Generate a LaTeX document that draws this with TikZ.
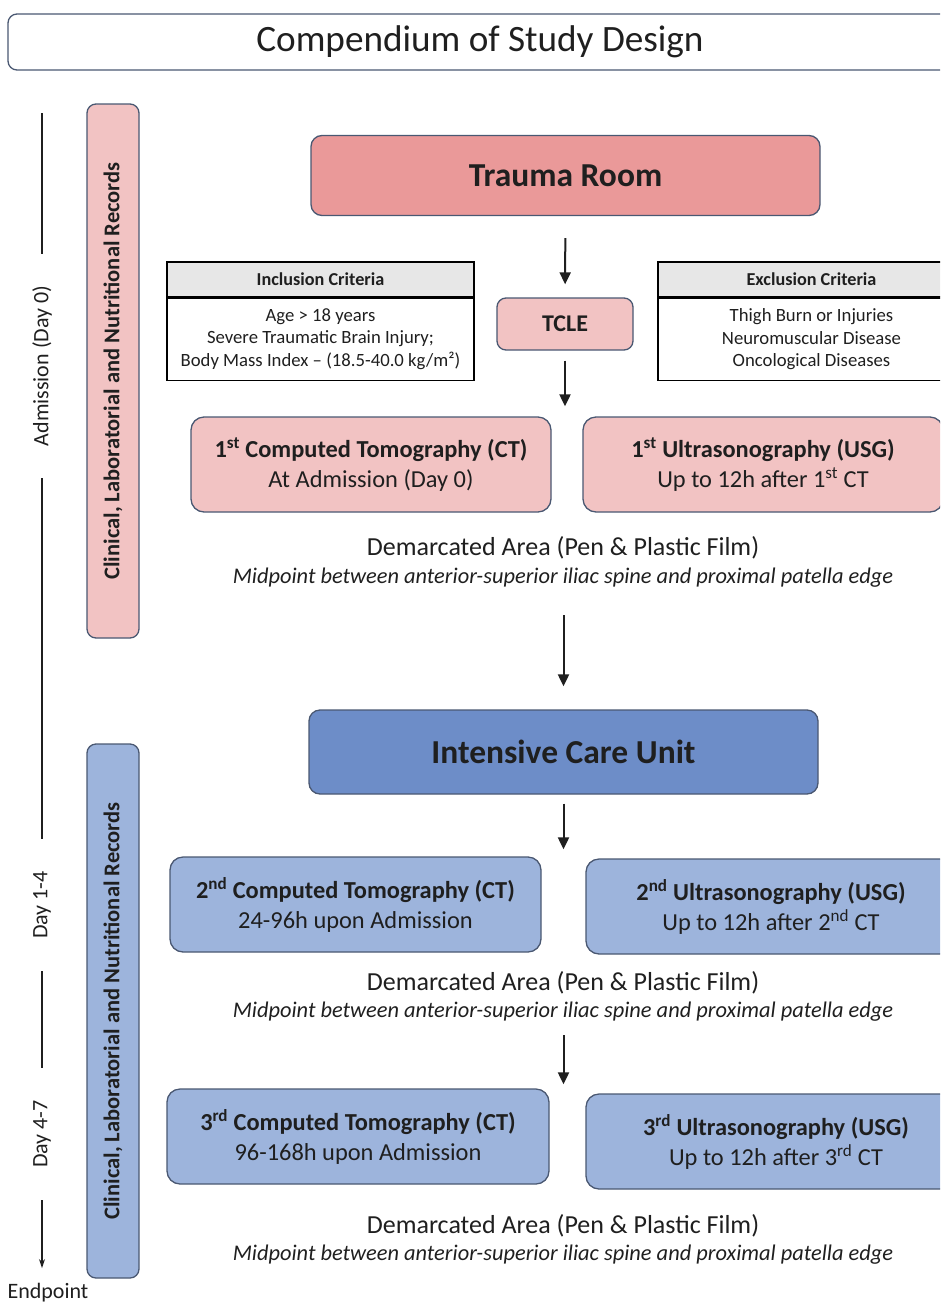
\documentclass[tikz,border=0pt]{standalone}
\usepackage{fontspec}
\setmainfont{Carlito}
\usetikzlibrary{arrows.meta, positioning}

\definecolor{edgeslate}{HTML}{4A5872}
\definecolor{pinklight}{HTML}{F2C3C3}
\definecolor{pinkdark}{HTML}{EA9999}
\definecolor{bluelight}{HTML}{9DB4DC}
\definecolor{bluedark}{HTML}{6D8DC8}
\definecolor{headgray}{HTML}{E7E7E7}
\definecolor{inkgray}{HTML}{1F1F1F}

\tikzset{
    roombox/.style={draw=edgeslate, line width=1.3pt, rounded corners=11pt,
        minimum height=80pt, minimum width=509pt, text=inkgray,
        font=\fontsize{33.5}{38}\selectfont\bfseries},
    exambox/.style={draw=edgeslate, line width=1.3pt, rounded corners=13pt,
        minimum height=95pt, align=center, text=inkgray,
        font=\fontsize{24.4}{30}\selectfont},
    sidebar/.style={draw=edgeslate, line width=1.3pt, rounded corners=9pt,
        rotate=90, minimum width=534pt, minimum height=52pt, text=inkgray,
        font=\fontsize{22.5}{24}\selectfont\bfseries},
    crithead/.style={draw=black, line width=1.2pt, fill=headgray,
        minimum width=307pt, minimum height=35pt, text=inkgray,
        font=\fontsize{18.2}{22}\selectfont\bfseries},
    critbody/.style={draw=black, line width=1.2pt, minimum width=307pt,
        minimum height=82pt, align=center, text=inkgray,
        font=\fontsize{18.7}{22.5}\selectfont},
    demnote/.style={text=inkgray, font=\fontsize{26}{30}\selectfont},
    demsub/.style={text=inkgray, font=\fontsize{22.4}{26}\selectfont\itshape},
    daylabel/.style={rotate=90, inner xsep=32pt, inner ysep=0pt, text=inkgray,
        font=\fontsize{22}{26}\selectfont},
    flow/.style={-{Triangle[length=12pt,width=11pt]}, line width=2pt, draw=inkgray}
}

\begin{document}
\begin{tikzpicture}[x=1pt, y=-1pt]
    \useasboundingbox (0,0) rectangle (940,1304);
    \clip (0,0) rectangle (940,1304);

    % title
    \node[draw=edgeslate, line width=1.3pt, rounded corners=9pt, minimum width=944pt,
        minimum height=56pt, text=inkgray, font=\fontsize{37.2}{40}\selectfont]
        (title) at (480,42) {Compendium of Study Design};

    % time line on the left
    \coordinate (tstart) at (42,113);
    \node[daylabel] (adm) at (42,366) {Admission (Day 0)};
    \node[daylabel] (dayA) at (42,905) {Day 1-4};
    \node[daylabel] (dayB) at (42,1134) {Day 4-7};
    \node[text=inkgray, font=\fontsize{22}{26}\selectfont] (endp) at (48,1293) {Endpoint};
    \draw[line width=1.4pt, inkgray] (tstart) -- (adm.east);
    \draw[line width=1.4pt, inkgray] (adm.west) -- (dayA.east);
    \draw[line width=1.4pt, inkgray] (dayA.west) -- (dayB.east);
    \draw[line width=1.4pt, inkgray, -{Stealth[length=9pt,width=6pt]}, shorten >=12pt]
        (dayB.west) -- (dayB.west |- endp.north);

    % records bars
    \node[sidebar, fill=pinklight] (recA) at (113,371) {Clinical, Laboratorial and Nutritional Records};
    \node[sidebar, fill=bluelight] (recB) at (113,1011) {Clinical, Laboratorial and Nutritional Records};

    % trauma room part
    \node[roombox, fill=pinkdark] (trauma) at (565.5,175.5) {Trauma Room};
    \node[draw=edgeslate, line width=1.3pt, rounded corners=9pt, fill=pinklight,
        minimum width=136pt, minimum height=52pt, text=inkgray,
        font=\fontsize{24}{28}\selectfont\bfseries] (tcle) at (565,324) {TCLE};

    \node[crithead] (inchead) at (320.5,279.5) {Inclusion Criteria};
    \node[critbody, below=0pt of inchead] (incbody)
        {Age > 18 years\\Severe Traumatic Brain Injury;\\Body Mass Index -- (18.5-40.0 kg/m²)};
    \node[crithead] (exchead) at (811.5,279.5) {Exclusion Criteria};
    \node[critbody, below=0pt of exchead] (excbody)
        {Thigh Burn or Injuries\\Neuromuscular Disease\\Oncological Diseases};

    \node[exambox, fill=pinklight, minimum width=360pt] (ctA) at (371,464.5)
        {\textbf{1\textsuperscript{st} Computed Tomography (CT)}\\At Admission (Day 0)};
    \node[exambox, fill=pinklight, minimum width=360pt] (usgA) at (763,464.5)
        {\textbf{1\textsuperscript{st} Ultrasonography (USG)}\\Up to 12h after 1\textsuperscript{st} CT};

    \node[demnote] (demA) at (563,548) {Demarcated Area (Pen \& Plastic Film)};
    \node[demsub] (demAsub) at (563,578) {Midpoint between anterior-superior iliac spine and proximal patella edge};

    \draw[flow, shorten <=22pt, shorten >=13pt] (trauma) -- (tcle);
    \draw[flow, shorten <=10pt, shorten >=10pt] (tcle.south) -- (tcle.south |- ctA.north);

    % intensive care part
    \node[roombox, fill=bluedark, minimum height=84pt] (icu) at (563.5,752) {Intensive Care Unit};
    \coordinate (gapA) at (demAsub.south -| icu.north);
    \draw[flow, shorten <=24pt, shorten >=23pt] (gapA) -- (icu.north);

    \node[exambox, fill=bluelight, minimum width=371pt] (ctB) at (355.5,904.5)
        {\textbf{2\textsuperscript{nd} Computed Tomography (CT)}\\24-96h upon Admission};
    \node[exambox, fill=bluelight, minimum width=370pt] (usgB) at (771,906.5)
        {\textbf{2\textsuperscript{nd} Ultrasonography (USG)}\\Up to 12h after 2\textsuperscript{nd} CT};
    \draw[flow, shorten <=9pt, shorten >=7pt] (icu.south) -- (icu.south |- ctB.north);

    \node[demnote] (demB) at (563,983) {Demarcated Area (Pen \& Plastic Film)};
    \node[demsub] (demBsub) at (563,1012) {Midpoint between anterior-superior iliac spine and proximal patella edge};

    \node[exambox, fill=bluelight, minimum width=382pt] (ctC) at (358,1136.5)
        {\textbf{3\textsuperscript{rd} Computed Tomography (CT)}\\96-168h upon Admission};
    \node[exambox, fill=bluelight, minimum width=380pt] (usgC) at (776,1141.5)
        {\textbf{3\textsuperscript{rd} Ultrasonography (USG)}\\Up to 12h after 3\textsuperscript{rd} CT};
    \coordinate (gapB) at (demBsub.south -| icu.south);
    \draw[flow, shorten <=10pt, shorten >=4pt] (gapB) -- (gapB |- ctC.north);

    \node[demnote] (demC) at (563,1226) {Demarcated Area (Pen \& Plastic Film)};
    \node[demsub] (demCsub) at (563,1255) {Midpoint between anterior-superior iliac spine and proximal patella edge};
\end{tikzpicture}
\end{document}
